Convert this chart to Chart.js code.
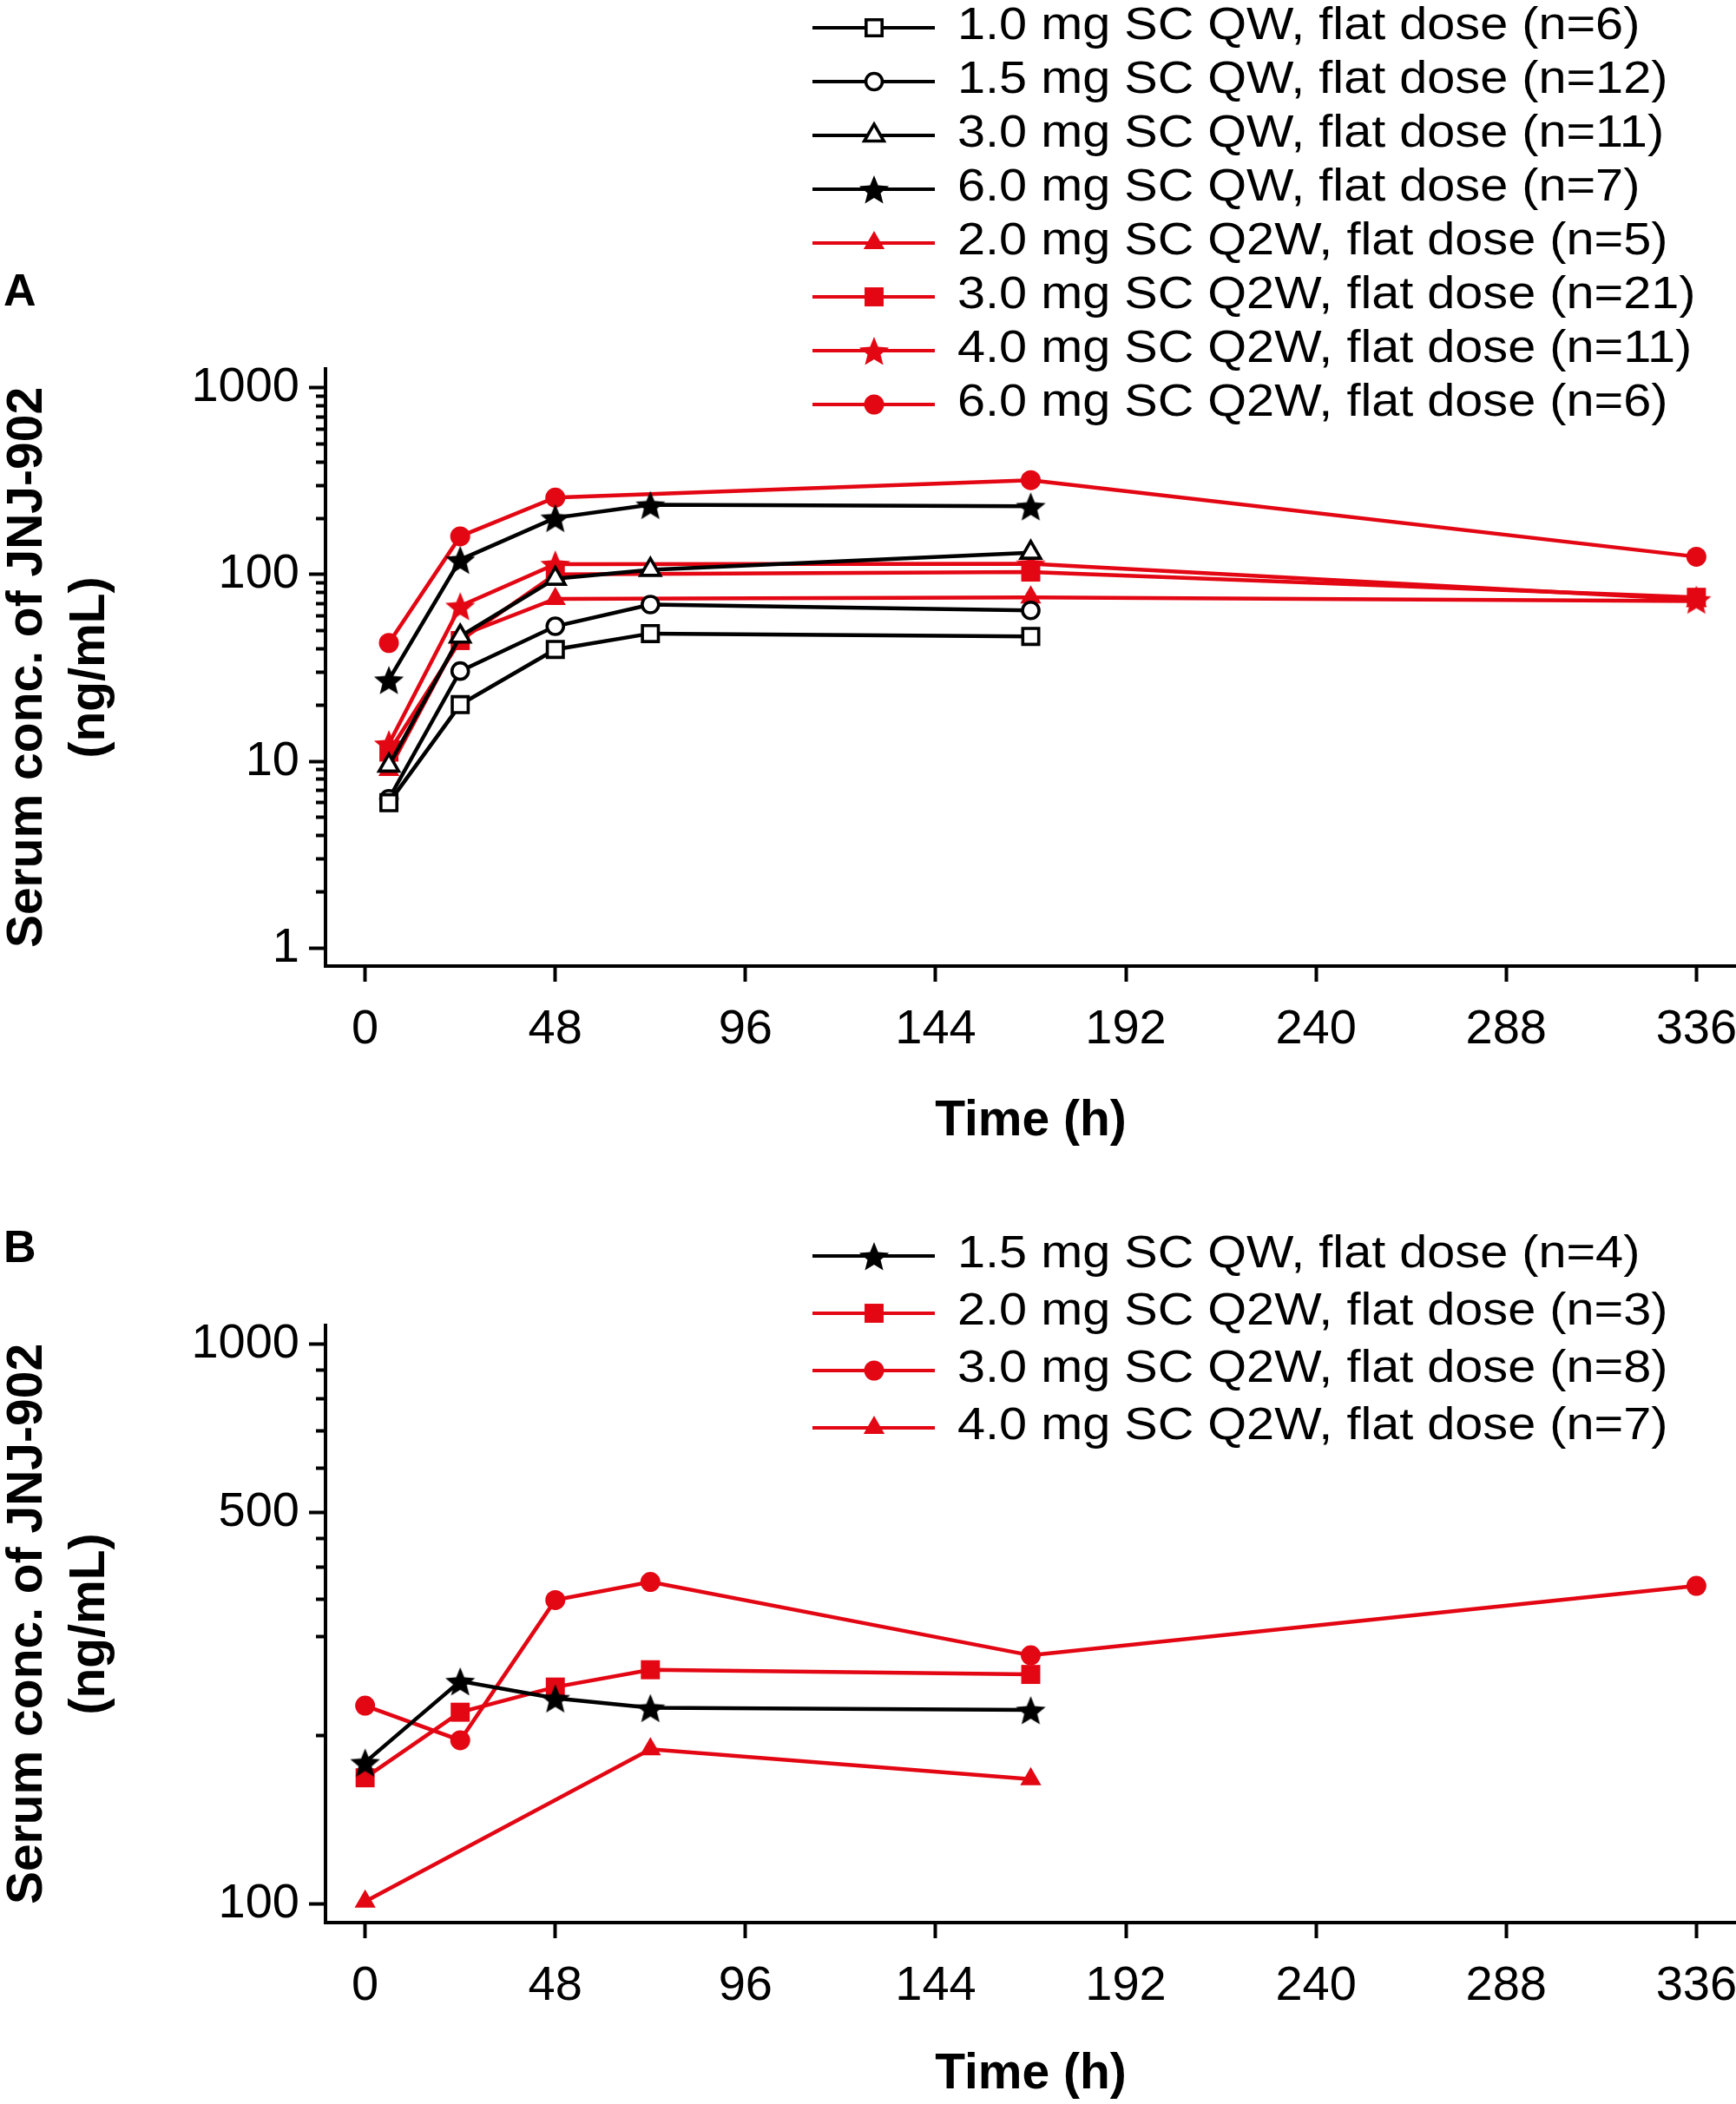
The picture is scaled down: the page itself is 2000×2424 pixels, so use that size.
<!DOCTYPE html>
<html>
<head>
<meta charset="utf-8">
<script src="https://cdn.jsdelivr.net/npm/chart.js@4.4.1/dist/chart.umd.min.js"></script>
<style>
    html, body { margin: 0; padding: 0; background: #fff; overflow: hidden; }
    #wrap-a { position: absolute; left: 0; top: 0; width: 2000px; height: 1340px; }
    #wrap-b { position: absolute; left: 0; top: 1340px; width: 2000px; height: 1084px; }
</style>
</head>
<body>
<div id="wrap-a"><canvas id="chart-a" width="2000" height="1340" style="width:2000px;height:1340px"></canvas></div>
<div id="wrap-b"><canvas id="chart-b" width="2000" height="1084" style="width:2000px;height:1084px"></canvas></div>
<script>
// panel A - times (h)
const hoursQW = [6, 24, 48, 72, 168];
const hoursQ2W = [6, 24, 48, 168, 336];

// panel A - serum conc. (ng/mL)
const qw10 = [6.0, 20.1, 39.7, 48.3, 46.6];
const qw15 = [6.3, 30.4, 52.8, 69, 64.2];
const qw30 = [9.5, 46.6, 95, 106, 131];
const qw60 = [27.3, 120, 201, 236, 232];
const q2w20 = [9.0, 47, 74, 75.5, 72];
const q2w30 = [11.2, 44.3, 100, 103, 75.5];
const q2w40 = [12.4, 67.8, 113.6, 114, 73.5];
const q2w60 = [43, 160, 258, 320, 124.5];

// panel B - times (h)
const hoursB = [0, 24, 48, 72, 168];
const hoursB3 = [0, 24, 48, 72, 168, 336];
const hoursB4 = [0, 72, 168];

// panel B - serum conc. (ng/mL)
const b15qw = [179, 250, 233, 224, 222];
const b20q2w = [168, 220, 244, 262, 257];
const b30q2w = [226, 196, 349, 376, 278, 370];
const b40q2w = [101, 189, 167];

// ticks
const xTicks = [0, 48, 96, 144, 192, 240, 288, 336];
const yTicksA = [1, 2, 3, 4, 5, 6, 7, 8, 9, 10, 20, 30, 40, 50, 60, 70, 80, 90,
    100, 200, 300, 400, 500, 600, 700, 800, 900, 1000];
const yLabelsA = [1, 10, 100, 1000];
const yTicksB = [100, 200, 300, 350, 400, 450, 500, 600, 700, 800, 900, 1000];
const yLabelsB = [100, 500, 1000];

const RED = '#e30613';
const BLACK = '#000';
const FONT = "'Liberation Sans', Arial, Helvetica, sans-serif";

Chart.defaults.font.family = FONT;
Chart.defaults.color = '#000';

// 5-point star marker as a small canvas
function makeStar(color, r) {
    const c = document.createElement('canvas');
    const s = Math.ceil(r * 2 + 4);
    c.width = s;
    c.height = s;
    const g = c.getContext('2d');
    g.beginPath();
    for (let i = 0; i < 10; i++) {
        const rad = i % 2 ? r * 0.44 : r;
        const a = -Math.PI / 2 + i * Math.PI / 5;
        g.lineTo(s / 2 + rad * Math.cos(a), s / 2 + 2 + rad * Math.sin(a));
    }
    g.closePath();
    g.fillStyle = color;
    g.fill();
    return c;
}

const starBlack = makeStar(BLACK, 18);
const starRed = makeStar(RED, 18);

function series(label, hours, values, color, style, filled, radius) {
    return {
        label: label,
        data: hours.map((h, i) => ({x: h, y: values[i]})),
        borderColor: color,
        borderWidth: 4.5,
        pointStyle: style,
        pointRadius: radius,
        pointHoverRadius: radius,
        pointBackgroundColor: filled ? color : '#fff',
        pointBorderColor: color,
        pointBorderWidth: filled ? 0 : 3.6,
        tension: 0,
        fill: false
    };
}

const legendPlugin = {
    id: 'sideLegend',
    afterDraw(chart, args, opts) {
        const ctx = chart.ctx;
        ctx.save();
        chart.data.datasets.forEach((ds, i) => {
            const y = opts.top + i * opts.step;
            ctx.strokeStyle = ds.borderColor;
            ctx.lineWidth = 3.8;
            ctx.beginPath();
            ctx.moveTo(936, y);
            ctx.lineTo(1077, y);
            ctx.stroke();

            ctx.fillStyle = ds.pointBackgroundColor;
            ctx.strokeStyle = ds.pointBorderColor;
            ctx.lineWidth = ds.pointBorderWidth;
            Chart.helpers.drawPoint(ctx, {
                pointStyle: ds.pointStyle,
                radius: ds.pointRadius,
                rotation: 0,
                borderWidth: ds.pointBorderWidth
            }, 1007, y);

            ctx.save();
            ctx.translate(1103, y + 13);
            ctx.scale(1.13, 1);
            ctx.fillStyle = '#000';
            ctx.font = '51px ' + FONT;
            ctx.textBaseline = 'alphabetic';
            ctx.textAlign = 'left';
            ctx.fillText(ds.label, 0, 0);
            ctx.restore();
        });

        // panel letter
        ctx.fillStyle = '#000';
        ctx.font = 'bold 52px ' + FONT;
        ctx.textAlign = 'left';
        ctx.textBaseline = 'alphabetic';
        ctx.fillText(opts.letter, 4, opts.letterY);
        ctx.restore();
    }
};

function xScale(h) {
    return {
        type: 'linear',
        min: -10,
        max: 346,
        afterBuildTicks: s => { s.ticks = xTicks.map(v => ({value: v})); },
        afterFit: s => { s.height = h; s.paddingLeft = 0; s.paddingRight = 0; },
        grid: {drawOnChartArea: false, tickLength: 18, tickWidth: 4, tickColor: '#000'},
        border: {color: '#000', width: 4},
        ticks: {
            font: {size: 56}, padding: 22, color: '#000',
            maxRotation: 0, autoSkip: false,
            callback: v => String(v)
        },
        title: {
            display: true, text: 'Time (h)', color: '#000',
            font: {size: 57, weight: 'bold', lineHeight: 1.2},
            padding: {top: 0, bottom: 0}
        }
    };
}

function yScale(min, max, tickList, labelList) {
    const isLabel = c => c.tick && labelList.includes(c.tick.value);
    return {
        type: 'logarithmic',
        min: min,
        max: max,
        afterBuildTicks: s => { s.ticks = tickList.map(v => ({value: v})); },
        afterFit: s => { s.width = 375; s.paddingTop = 0; s.paddingBottom = 0; },
        grid: {
            drawOnChartArea: false, tickLength: 19, tickWidth: 4, tickColor: '#000',
            tickBorderDash: c => isLabel(c) ? [] : [12, 8],
            tickBorderDashOffset: c => isLabel(c) ? 0 : 12
        },
        border: {color: '#000', width: 4},
        ticks: {
            font: {size: 56}, padding: 11, color: '#000', autoSkip: false,
            major: {enabled: false},
            callback: v => labelList.includes(v) ? String(v) : ''
        },
        title: {
            display: true, text: ['Serum conc. of JNJ-902', '(ng/mL)'], color: '#000',
            font: {size: 57, weight: 'bold', lineHeight: 1.27},
            padding: {top: -4, bottom: 0}
        }
    };
}

const chartA = new Chart(document.getElementById('chart-a'), {
    type: 'line',
    data: {
        datasets: [
            series('1.0 mg SC QW, flat dose (n=6)', hoursQW, qw10, BLACK, 'rect', false, 13),
            series('1.5 mg SC QW, flat dose (n=12)', hoursQW, qw15, BLACK, 'circle', false, 9.5),
            series('3.0 mg SC QW, flat dose (n=11)', hoursQW, qw30, BLACK, 'triangle', false, 13),
            series('6.0 mg SC QW, flat dose (n=7)', hoursQW, qw60, BLACK, starBlack, true, 18),
            series('2.0 mg SC Q2W, flat dose (n=5)', hoursQ2W, q2w20, RED, 'triangle', true, 14),
            series('3.0 mg SC Q2W, flat dose (n=21)', hoursQ2W, q2w30, RED, 'rect', true, 15.5),
            series('4.0 mg SC Q2W, flat dose (n=11)', hoursQ2W, q2w40, RED, starRed, true, 18),
            series('6.0 mg SC Q2W, flat dose (n=6)', hoursQ2W, q2w60, RED, 'circle', true, 11.5)
        ]
    },
    options: {
        responsive: false,
        animation: false,
        devicePixelRatio: 1,
        layout: {autoPadding: false, padding: {left: 0, right: 0, top: 425, bottom: 14}},
        plugins: {
            legend: {display: false},
            tooltip: {enabled: false},
            sideLegend: {top: 32, step: 62, letter: 'A', letterY: 352}
        },
        scales: {
            x: xScale(213),
            y: yScale(0.801, 1261, yTicksA, yLabelsA)
        }
    },
    plugins: [legendPlugin]
});

const chartB = new Chart(document.getElementById('chart-b'), {
    type: 'line',
    data: {
        datasets: [
            series('1.5 mg SC QW, flat dose (n=4)', hoursB, b15qw, BLACK, starBlack, true, 18),
            series('2.0 mg SC Q2W, flat dose (n=3)', hoursB, b20q2w, RED, 'rect', true, 15.5),
            series('3.0 mg SC Q2W, flat dose (n=8)', hoursB3, b30q2w, RED, 'circle', true, 11.5),
            series('4.0 mg SC Q2W, flat dose (n=7)', hoursB4, b40q2w, RED, 'triangle', true, 14)
        ]
    },
    options: {
        responsive: false,
        animation: false,
        devicePixelRatio: 1,
        layout: {autoPadding: false, padding: {left: 0, right: 0, top: 187, bottom: 0}},
        plugins: {
            legend: {display: false},
            tooltip: {enabled: false},
            sideLegend: {top: 107, step: 66, letter: 'B', letterY: 114}
        },
        scales: {
            x: xScale(209),
            y: yScale(92.6, 1080, yTicksB, yLabelsB)
        }
    },
    plugins: [legendPlugin]
});
</script>
</body>
</html>
